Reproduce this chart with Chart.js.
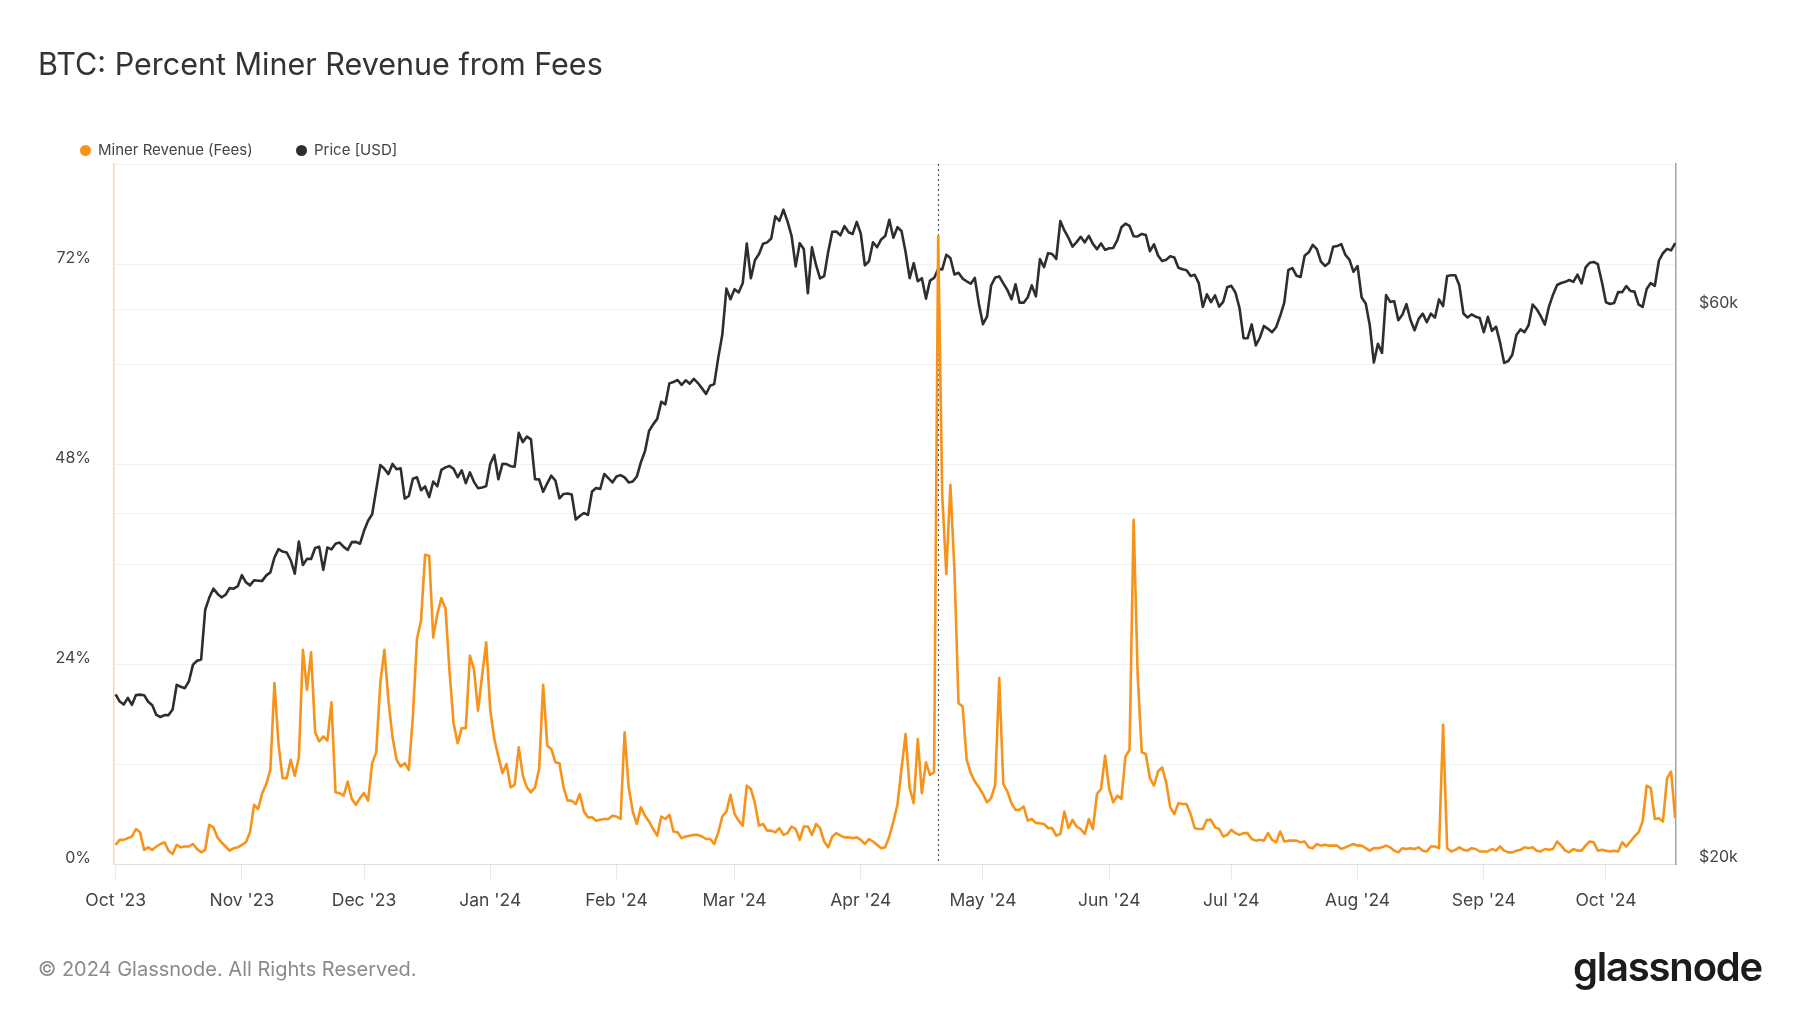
<!DOCTYPE html>
<html>
<head>
<meta charset="utf-8">
<title>BTC: Percent Miner Revenue from Fees</title>
<script src="https://cdn.jsdelivr.net/npm/chart.js@4.4.1/dist/chart.umd.min.js"></script>
<style>
  html, body { margin: 0; padding: 0; background: #fff; }
  body { width: 1800px; height: 1013px; position: relative; overflow: hidden; font-family: Inter, "Noto Sans", sans-serif; }
  #chart-wrap { position: absolute; left: 0; top: 0; width: 1800px; height: 1013px; }
  .title { position: absolute; left: 38px; top: 46px; font-size: 30.5px; line-height: 36px; color: #333; }
  .legend-item { position: absolute; top: 141px; height: 18px; line-height: 18px; font-size: 15px; color: #444; }
  .legend-item .dot { position: absolute; left: 0; top: 3.5px; width: 11px; height: 11px; border-radius: 50%; }
  .legend-item span { position: absolute; left: 18px; white-space: nowrap; }
  .footer { position: absolute; left: 38px; top: 956px; font-size: 20px; line-height: 26px; color: #8a8a8a; }
  .logo { position: absolute; right: 38px; top: 942px; font-size: 40px; line-height: 50px; font-weight: 600; color: #1c1c1c; letter-spacing: -1.2px; }
</style>
</head>
<body>
<div id="chart-wrap"><canvas id="mainChart"></canvas></div>
<div class="title">BTC: Percent Miner Revenue from Fees</div>
<div class="legend-item" style="left:80px"><div class="dot" style="background:#F7931A"></div><span>Miner Revenue (Fees)</span></div>
<div class="legend-item" style="left:296px"><div class="dot" style="background:#2e2e2e"></div><span>Price [USD]</span></div>
<div class="footer">© 2024 Glassnode. All Rights Reserved.</div>
<div class="logo">glassnode</div>

<script>
// Daily values, 1 Oct 2023 .. 18 Oct 2024 (one entry per day)

// Miner revenue share from fees, percent
const FEE_SHARE = [
    // Oct '23
    2.3, 2.9, 2.9, 3.1, 3.3, 4.2, 3.8, 1.7, 2.0, 1.7, 2.1, 2.4, 2.6, 1.6, 1.2, 2.3,
    2.0, 2.1, 2.1, 2.4, 1.8, 1.4, 1.7, 4.7, 4.4, 3.2, 2.6, 2.1, 1.6, 1.9, 2.0,
    // Nov '23
    2.3, 2.6, 3.8, 7.1, 6.6, 8.5, 9.6, 11.3, 21.7, 14.4, 10.3, 10.3, 12.5, 10.6, 12.8,
    25.7, 20.9, 25.4, 15.8, 14.7, 15.3, 14.8, 19.4, 8.6, 8.5, 8.2, 9.9, 7.8, 7.1, 7.9,
    // Dec '23
    8.5, 7.6, 12.1, 13.4, 21.7, 25.7, 19.6, 15.2, 12.5, 11.7, 12.1, 11.3, 17.7, 27.0, 29.2, 37.1,
    37.0, 27.2, 30.0, 31.9, 30.7, 23.1, 16.9, 14.5, 16.3, 16.3, 25.0, 23.4, 18.4, 22.6, 26.6,
    // Jan '24
    18.5, 15.0, 12.9, 10.9, 12.0, 9.2, 9.5, 14.0, 10.6, 9.2, 8.6, 9.2, 11.4, 21.5, 14.2, 13.8,
    12.2, 12.1, 9.2, 7.6, 7.6, 7.2, 8.4, 6.3, 5.6, 5.6, 5.2, 5.3, 5.4, 5.4, 5.8,
    // Feb '24
    5.7, 5.4, 15.8, 9.2, 6.3, 4.8, 6.8, 5.8, 5.1, 4.2, 3.4, 5.7, 5.4, 5.9, 3.9,
    3.8, 3.1, 3.3, 3.4, 3.5, 3.5, 3.3, 3.0, 3.0, 2.4, 3.8, 5.7, 6.3, 8.3,
    // Mar '24
    6.0, 5.2, 4.6, 9.4, 9.0, 7.3, 4.6, 4.8, 4.0, 4.0, 3.8, 4.3, 3.5, 3.7, 4.5, 4.2,
    2.9, 4.5, 4.5, 3.5, 4.8, 4.3, 2.7, 2.0, 3.3, 3.7, 3.4, 3.2, 3.2, 3.1, 3.2,
    // Apr '24
    2.9, 2.4, 3.0, 2.7, 2.3, 1.9, 2.0, 3.3, 5.1, 7.1, 11.4, 15.6, 9.1, 7.3, 15.0,
    8.5, 12.2, 10.7, 11.0, 75.3, 44.3, 34.8, 45.5, 35.3, 19.3, 18.9, 12.5, 10.9, 9.9, 9.2,
    // May '24
    8.4, 7.4, 7.9, 9.5, 22.3, 9.6, 8.7, 7.3, 6.5, 6.5, 6.9, 5.2, 5.4, 4.9, 4.9, 4.8,
    4.3, 4.3, 3.4, 3.6, 6.3, 4.3, 5.3, 4.5, 4.2, 3.6, 5.4, 4.2, 8.4, 9.0, 13.0,
    // Jun '24
    9.0, 7.4, 8.2, 7.8, 12.9, 13.7, 41.3, 22.6, 13.4, 13.2, 10.3, 9.4, 11.1, 11.6, 9.8,
    6.8, 6.0, 7.3, 7.2, 7.2, 6.0, 4.3, 4.2, 4.2, 5.3, 5.3, 4.4, 4.2, 3.3, 3.5,
    // Jul '24
    4.1, 3.7, 3.5, 3.7, 3.7, 3.0, 2.8, 2.9, 2.8, 3.7, 2.9, 2.6, 3.9, 2.7, 2.8, 2.8,
    2.8, 2.6, 2.7, 2.0, 1.9, 2.4, 2.2, 2.3, 2.2, 2.2, 2.2, 1.8, 2.0, 2.2, 2.4,
    // Aug '24
    2.2, 2.2, 1.9, 1.6, 1.9, 1.9, 2.0, 2.2, 2.0, 1.6, 1.4, 1.9, 1.8, 1.9, 1.8, 2.0,
    1.6, 1.5, 2.1, 2.1, 1.9, 16.7, 1.9, 1.5, 1.7, 2.0, 1.7, 1.6, 1.9, 1.8, 1.5,
    // Sep '24
    1.5, 1.5, 1.8, 1.6, 2.1, 1.6, 1.4, 1.4, 1.6, 1.7, 2.0, 1.9, 2.0, 1.6, 1.5,
    1.8, 1.7, 1.8, 2.7, 2.2, 1.6, 1.4, 1.8, 1.6, 1.6, 2.2, 2.7, 2.6, 1.6, 1.7,
    // Oct '24
    1.6, 1.5, 1.6, 1.5, 2.6, 2.1, 2.7, 3.3, 3.8, 5.1, 9.4, 9.1, 5.4, 5.5, 5.1, 10.3, 11.1, 5.5
];

// BTC price, thousand USD
const BTC_PRICE = [
    // Oct '23
    27.98, 27.59, 27.43, 27.79, 27.41, 27.95, 27.97, 27.94, 27.58, 27.39, 26.87, 26.76, 26.86, 26.86, 27.16, 28.52,
    28.41, 28.33, 28.72, 29.68, 29.91, 29.99, 33.09, 33.90, 34.50, 34.16, 33.91, 34.09, 34.54, 34.50, 34.67,
    // Nov '23
    35.44, 34.94, 34.73, 35.08, 35.05, 35.04, 35.42, 35.63, 36.70, 37.31, 37.13, 37.07, 36.50, 35.54, 37.88,
    36.16, 36.60, 36.59, 37.39, 37.48, 35.81, 37.43, 37.29, 37.72, 37.80, 37.48, 37.25, 37.83, 37.85, 37.71,
    // Dec '23
    38.69, 39.47, 39.98, 41.98, 44.08, 43.75, 43.29, 44.17, 43.71, 43.79, 41.24, 41.45, 42.89, 43.02, 41.93, 42.24,
    41.36, 42.66, 42.26, 43.65, 43.87, 43.99, 43.74, 43.02, 43.61, 42.52, 43.44, 42.63, 42.10, 42.16, 42.27,
    // Jan '24
    44.17, 44.96, 42.85, 44.18, 44.16, 43.97, 43.93, 46.97, 46.12, 46.63, 46.37, 42.85, 42.84, 41.80, 42.51, 43.15,
    42.74, 41.26, 41.62, 41.66, 41.58, 39.56, 39.84, 40.08, 39.93, 41.82, 42.12, 42.03, 43.30, 42.94, 42.58,
    // Feb '24
    43.08, 43.20, 43.01, 42.58, 42.66, 43.08, 44.32, 45.30, 47.15, 47.77, 48.29, 49.96, 49.70, 51.81, 51.94,
    52.16, 51.66, 52.12, 51.78, 52.28, 51.84, 51.30, 50.73, 51.57, 51.73, 54.52, 57.09, 62.50, 61.20,
    // Mar '24
    62.44, 62.03, 63.17, 68.33, 63.80, 66.11, 66.93, 68.30, 68.50, 69.02, 72.12, 71.48, 73.08, 71.40, 69.40, 65.32,
    68.39, 67.61, 61.94, 67.84, 65.50, 63.78, 64.06, 67.23, 69.96, 69.99, 69.46, 70.74, 69.89, 69.65, 71.33,
    // Apr '24
    69.70, 65.45, 65.98, 68.51, 67.84, 68.90, 69.36, 71.63, 69.14, 70.59, 70.06, 67.20, 63.82, 65.74, 63.43,
    63.81, 61.28, 63.51, 63.84, 64.99, 64.93, 66.84, 66.41, 64.28, 64.50, 63.76, 63.42, 63.11, 63.84, 60.64,
    // May '24
    58.25, 59.12, 62.89, 63.89, 64.03, 63.16, 62.33, 61.19, 63.05, 60.79, 60.79, 61.45, 62.90, 61.55, 66.27, 65.23,
    67.05, 66.94, 66.28, 71.45, 70.14, 69.12, 67.93, 68.53, 69.26, 68.50, 69.39, 68.30, 67.59, 68.35, 67.49,
    // Jun '24
    67.71, 67.75, 68.80, 70.57, 71.08, 70.76, 69.34, 69.31, 69.65, 69.50, 67.31, 68.24, 66.75, 66.01, 66.19,
    66.64, 66.49, 65.14, 64.96, 64.83, 64.10, 64.25, 63.18, 60.28, 61.80, 60.86, 61.67, 60.32, 60.89, 62.68,
    // Jul '24
    62.85, 62.03, 60.17, 56.66, 56.66, 58.23, 55.86, 56.71, 58.05, 57.72, 57.34, 57.90, 59.23, 60.79, 64.87, 65.10,
    64.12, 63.97, 66.71, 67.16, 68.17, 67.58, 65.93, 65.37, 65.80, 67.91, 68.00, 68.26, 66.82, 66.20, 64.62,
    // Aug '24
    65.36, 61.41, 60.68, 58.12, 53.99, 56.03, 55.03, 61.71, 60.88, 60.95, 58.72, 59.35, 60.61, 58.74, 57.56, 58.87,
    59.48, 58.48, 59.49, 59.01, 61.18, 60.38, 64.09, 64.18, 64.18, 62.88, 59.50, 59.03, 59.39, 59.12, 58.97,
    // Sep '24
    57.33, 59.11, 57.48, 57.97, 56.16, 53.95, 54.16, 54.84, 57.02, 57.65, 57.34, 58.13, 60.57, 60.00, 59.18,
    58.21, 60.31, 61.76, 62.95, 63.20, 63.35, 63.58, 63.34, 64.26, 63.14, 65.18, 65.79, 65.89, 65.60, 63.33,
    // Oct '24
    60.84, 60.63, 60.75, 62.09, 62.07, 62.82, 62.22, 62.13, 60.58, 60.27, 62.45, 63.19, 62.85, 66.05, 67.04, 67.61, 67.42, 68.40
];

// x axis: day index of each month start, and its label
const MONTH_TICK_DAYS = [0, 31, 61, 92, 123, 152, 183, 213, 244, 274, 305, 336, 366];
const MONTH_LABELS = ["Oct '23", "Nov '23", "Dec '23", "Jan '24", "Feb '24", "Mar '24", "Apr '24",
                      "May '24", "Jun '24", "Jul '24", "Aug '24", "Sep '24", "Oct '24"];

// left axis (percent)
const PCT_MAX = 84;
const PCT_STEP = 12;
const PCT_LABEL_EVERY = 24;

// right axis (price, log scale, thousand USD)
const PRICE_TICKS = [20, 40, 60, 80];
const PRICE_TICK_LABELS = ['$20k', '', '$60k', ''];

// halving day (20 Apr 2024)
const HALVING_DAY = 202;

const ORANGE = '#F7931A';
const DARK = '#2e2e2e';
const TICK_COLOR = '#444';

// dotted vertical marker at the halving
const halvingLine = {
    id: 'halvingLine',
    beforeDatasetsDraw(chart) {
        const { ctx, chartArea, scales } = chart;
        const x = Math.round(scales.x.getPixelForValue(HALVING_DAY)) + 0.5;
        ctx.save();
        ctx.strokeStyle = '#555';
        ctx.lineWidth = 1.2;
        ctx.setLineDash([2, 3]);
        ctx.beginPath();
        ctx.moveTo(x, chartArea.top);
        ctx.lineTo(x, chartArea.bottom);
        ctx.stroke();
        ctx.restore();
    }
};

const toPoints = arr => arr.map((v, i) => ({ x: i, y: v }));

new Chart(document.getElementById('mainChart'), {
    type: 'line',
    data: {
        datasets: [
            {
                label: 'Miner Revenue (Fees)',
                data: toPoints(FEE_SHARE),
                yAxisID: 'y',
                borderColor: ORANGE,
                borderWidth: 2.6,
                pointRadius: 0,
                tension: 0,
                borderJoinStyle: 'round'
            },
            {
                label: 'Price [USD]',
                data: toPoints(BTC_PRICE),
                yAxisID: 'y1',
                borderColor: DARK,
                borderWidth: 2.6,
                pointRadius: 0,
                tension: 0,
                borderJoinStyle: 'round'
            }
        ]
    },
    options: {
        responsive: true,
        maintainAspectRatio: false,
        animation: false,
        layout: { padding: { top: 164, left: 0, right: 0, bottom: 0 } },
        plugins: {
            legend: { display: false },
            tooltip: { enabled: false }
        },
        scales: {
            x: {
                type: 'linear',
                min: -0.4,
                max: 383.2,
                afterBuildTicks: scale => { scale.ticks = MONTH_TICK_DAYS.map(v => ({ value: v })); },
                afterFit: scale => { scale.height = 149; },
                ticks: {
                    autoSkip: false,
                    maxRotation: 0,
                    padding: 11,
                    font: { family: 'Inter', size: 17.5 },
                    color: TICK_COLOR,
                    callback: (v, i) => MONTH_LABELS[i]
                },
                grid: { drawOnChartArea: false, tickLength: 15, color: '#e8e8e8' },
                border: { color: '#e0e0e0' }
            },
            y: {
                position: 'left',
                min: 0,
                max: PCT_MAX,
                afterFit: scale => { scale.width = 114; },
                ticks: {
                    stepSize: PCT_STEP,
                    padding: 23,
                    labelOffset: -6,
                    font: { family: 'Inter', size: 16 },
                    color: TICK_COLOR,
                    callback: v => (v % PCT_LABEL_EVERY === 0 ? v + '%' : '')
                },
                grid: {
                    drawTicks: false,
                    color: c => (c.tick && c.tick.value === PCT_MAX ? '#e4e4e4' : '#f1f1f1')
                },
                border: { color: '#fcd6a4', width: 1.5 }
            },
            y1: {
                type: 'logarithmic',
                position: 'right',
                min: 20,
                max: 80,
                afterBuildTicks: scale => { scale.ticks = PRICE_TICKS.map(v => ({ value: v })); },
                afterFit: scale => { scale.width = 124; },
                ticks: {
                    padding: 23,
                    labelOffset: -6.5,
                    font: { family: 'Inter', size: 16 },
                    color: TICK_COLOR,
                    callback: (v, i) => PRICE_TICK_LABELS[i]
                },
                grid: { drawTicks: false, color: '#f1f1f1' },
                border: { color: '#a3a3a3', width: 1.5 }
            }
        }
    },
    plugins: [halvingLine]
});
</script>
</body>
</html>
